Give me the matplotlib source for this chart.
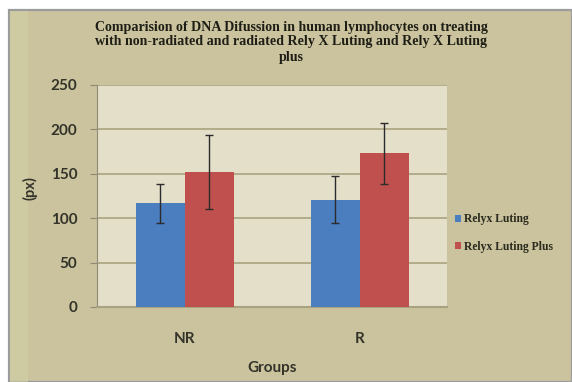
import matplotlib
matplotlib.use("Agg")
import matplotlib.pyplot as plt
from matplotlib.patches import Rectangle, Patch
import numpy as np

categories = ["NR", "R"]
series_names = ["Relyx Luting", "Relyx Luting Plus"]
luting = [117, 121]
luting_err = [22, 26]
luting_plus = [152, 173]
luting_plus_err = [42, 34]
yticks = [0, 50, 100, 150, 200, 250]

title = ("Comparision of DNA Difussion in human lymphocytes on treating\n"
         "with non-radiated and radiated Rely X Luting and Rely X Luting\n"
         "plus")

outer_bg = "#cac39d"
plot_bg = "#e3dfc9"
grid_c = "#aaa37f"
blue = "#4a7ebf"
red = "#c0504d"
txt = "#33332a"

fig = plt.figure(figsize=(5.72, 3.82), dpi=100)
fig.patch.set_facecolor("white")
bg = Rectangle((9/572, 0), 1 - 9/572, 1 - 10/382, transform=fig.transFigure,
               facecolor=outer_bg, edgecolor="#9c9c9c", linewidth=1.6, zorder=-10)
fig.patches.append(bg)
band = Rectangle((10/572, 0), 18/572, 1 - 11/382, transform=fig.transFigure,
                 facecolor="#d2cfa6", edgecolor="none", alpha=0.6, zorder=-9)
fig.patches.append(band)

ax = fig.add_axes([97/572, 1 - 307/382, 350/572, 222/382])
ax.set_facecolor(plot_bg)

x = np.arange(len(categories))
w = 0.28
ek = dict(ecolor="#2b2b2b", elinewidth=1.0, capsize=3, capthick=1.0)
ax.bar(x - w/2, luting, w, yerr=luting_err, color=blue, error_kw=ek, zorder=3,
       label=series_names[0])
ax.bar(x + w/2, luting_plus, w, yerr=luting_plus_err, color=red, error_kw=ek, zorder=3,
       label=series_names[1])

ax.set_xlim(-0.5, 1.5)
ax.set_ylim(0, 250)
ax.set_yticks(yticks)
ax.set_xticks(x)
ax.set_xticklabels(categories)
ax.yaxis.grid(True, color=grid_c, linewidth=1.2, zorder=0)
ax.set_axisbelow(True)
for s in ["top", "right"]:
    ax.spines[s].set_visible(False)
ax.spines["left"].set_color("#8f8b78")
ax.spines["bottom"].set_color("#a8a282")
ax.spines["bottom"].set_linewidth(1.5)
ax.tick_params(axis="y", length=5, color="#8f8b78", pad=9)
ax.tick_params(axis="x", length=0, pad=18)
for lab in ax.get_yticklabels() + ax.get_xticklabels():
    lab.set_fontfamily("Lato")
    lab.set_fontweight("bold")
    lab.set_fontsize(11)
    lab.set_color(txt)

fig.text(30/572, 1 - 188/382, "(px)", rotation=90, ha="center", va="center",
         fontfamily="Lato", fontweight="bold", fontsize=10.5, color=txt)
fig.text(272/572, 1 - 368/382, "Groups", ha="center", va="center",
         fontfamily="Lato", fontweight="bold", fontsize=11, color=txt)
fig.text(291/572, 1 - 42/382, title, ha="center", va="center",
         fontfamily="Liberation Serif", fontweight="bold", fontsize=10.1,
         color="#1e1e16", linespacing=1.2)

handles = [Patch(facecolor=blue), Patch(facecolor=red)]
fig.legend(handles, series_names, loc="center left",
           bbox_to_anchor=(444/572, 1 - 233/382), frameon=False,
           handlelength=0.55, handleheight=0.55, handletextpad=0.3,
           labelspacing=1.3, prop=dict(family="Liberation Serif", weight="bold", size=8.4),
           labelcolor="#2a2a1e")

fig.savefig("out.png", dpi=100, facecolor=fig.get_facecolor())
